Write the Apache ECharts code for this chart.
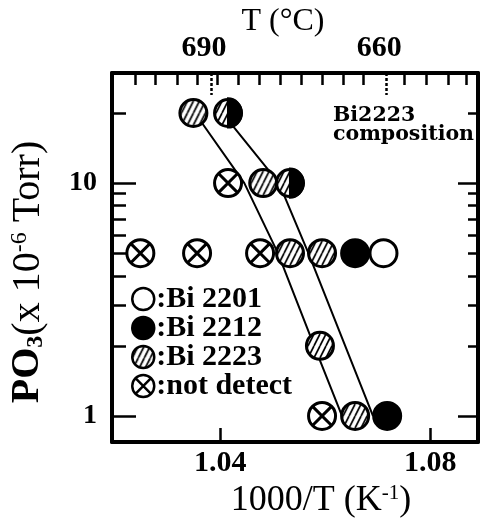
<!DOCTYPE html>
<html><head><meta charset="utf-8">
<script src="https://cdn.jsdelivr.net/npm/echarts@6/dist/echarts.min.js"></script>
<style>html,body{margin:0;padding:0;background:#fff}#c{width:481px;height:524px}</style>
</head><body><div id="c"></div>
<script>
// ---- data (x = 1000/T in K^-1, y = PO3 in 1e-6 Torr) ----
const bi2201X = [1.0711];
const bi2201Y = [5];
const bi2212X = [1.0657, 1.0718];
const bi2212Y = [5, 1];
const bi2223X = [1.0349, 1.0482, 1.0533, 1.0594, 1.0590, 1.0657];
const bi2223Y = [20, 10, 5, 5, 2, 1];
const notDetectX = [1.0248, 1.0356, 1.0476, 1.0415, 1.0594];
const notDetectY = [5, 5, 5, 10, 1];
const mixedX = [1.0415, 1.0533];          // Bi2223 + Bi2212 (half-filled)
const mixedY = [20, 10];
const line1X = [1.0352, 1.0446, 1.0510, 1.0579, 1.0632];
const line1Y = [20, 10, 5, 2, 1];
const line2X = [1.0404, 1.0512, 1.0568, 1.0691];
const line2Y = [20, 10, 5, 1];
// ---- axes / ticks ----
const xMin = 1.0194, xMax = 1.0891;
const yMin = 0.773, yMax = 29.7;
const xMajor = [1.04, 1.08];
const topTickX = [1.0238, 1.0276, 1.0318, 1.0357, 1.0395, 1.0435, 1.0475, 1.0514, 1.0554, 1.0594, 1.0635, 1.0673, 1.0750, 1.0793, 1.0834, 1.0869];
const tempLabels = [690, 660];           // deg C
const yMajor = [1, 10];
const yMinor = [2, 3, 4, 5, 6, 7, 8, 9, 20];
const legendNames = ['Bi 2201', 'Bi 2212', 'Bi 2223', 'not detect'];

const F = 'Liberation Serif';
const pair = (xs, ys) => xs.map((x, i) => [x, ys[i]]);
const tempX = tempLabels.map(t => 1000 / (t + 273.15));
const SZ = 27, BW = 3;

function hatchCanvas() {
  const c = document.createElement('canvas');
  c.width = 6; c.height = 12;
  const g = c.getContext('2d');
  g.fillStyle = '#fff'; g.fillRect(0, 0, 6, 12);
  g.strokeStyle = '#000'; g.lineWidth = 1.7;
  g.beginPath();
  for (const o of [-6, 0, 6]) { g.moveTo(o, 12); g.lineTo(o + 6, 0); }
  g.stroke();
  return c;
}
const hatchImg = hatchCanvas();
// symbols are drawn as 2x2 paths scaled by size/2, so the pattern is pre-scaled back
const hatchSeries = { image: hatchImg, repeat: 'repeat', scaleX: 2 / SZ, scaleY: 2 / SZ };
const hatchLegend = { image: hatchImg, repeat: 'repeat' };
const NDPATH = 'path://M0,10A10,10,0,1,1,20,10A10,10,0,1,1,0,10ZM2.93,2.93L17.07,17.07M17.07,2.93L2.93,17.07';
const HALF = 'path://M0,0A10,10,0,0,1,0,20Z';

const chart = echarts.init(document.getElementById('c'), null, { renderer: 'canvas' });
const tickLbl = { fontFamily: F, fontSize: 30, fontWeight: 'bold', color: '#000' };
const baseX = { type: 'value', min: xMin, max: xMax, splitLine: { show: false }, axisLine: { onZero: false, lineStyle: { color: '#000', width: 4 } } };
const baseY = { type: 'log', min: yMin, max: yMax, splitLine: { show: false }, axisLine: { onZero: false, lineStyle: { color: '#000', width: 4 } } };

chart.setOption({
  animation: false,
  backgroundColor: '#fff',
  grid: { left: 112, right: 3, top: 73, bottom: 82, containLabel: false, outerBoundsMode: 'none' },
  xAxis: [
    Object.assign({}, baseX, {
      id: 'xb', position: 'bottom',
      axisTick: { inside: true, length: 14, customValues: xMajor, lineStyle: { color: '#000', width: 2.5 } },
      axisLabel: { customValues: xMajor, margin: 6, formatter: v => v.toFixed(2), ...tickLbl },
      name: '{a|1000/T (K}{p|-1}{a|)}', nameLocation: 'middle', nameGap: 32,
      nameTextStyle: { padding: [0, 0, 0, 52], rich: {
        a: { fontFamily: F, fontSize: 36, color: '#000' },
        p: { fontFamily: F, fontSize: 21, color: '#000', verticalAlign: 'top' } } }
    }),
    Object.assign({}, baseX, {
      id: 'xt', position: 'top',
      axisLine: { show: false },
      axisTick: { inside: true, length: 22, customValues: tempX, lineStyle: { color: '#000', width: 2.5, type: [3, 2] } },
      axisLabel: { customValues: tempX, margin: 10, padding: [0, 14, 0, 0], formatter: v => String(Math.round(1000 / v - 273.15)), ...tickLbl },
      name: 'T (°C)', nameLocation: 'middle', nameGap: 35, nameMoveOverlap: false,
      nameTextStyle: { fontFamily: F, fontSize: 32, color: '#000', padding: [0, 24, 0, 0] }
    }),
    Object.assign({}, baseX, {
      id: 'xm', position: 'top',
      axisTick: { show: true, inside: true, length: 12, customValues: topTickX, lineStyle: { color: '#000', width: 2.5 } },
      axisLabel: { show: false }
    })
  ],
  yAxis: [
    Object.assign({}, baseY, {
      position: 'left',
      axisTick: { inside: true, length: 24, customValues: yMajor, lineStyle: { color: '#000', width: 2.5 } },
      axisLabel: { customValues: yMajor, margin: 15, formatter: v => String(Math.round(v)), ...tickLbl, fontSize: 28 },
      name: '{b|PO}{s|3}{a|(x 10}{p|-6}{a| Torr)}', nameLocation: 'middle', nameGap: 64, nameRotate: 90,
      nameTextStyle: { padding: [0, 29, 0, 0], rich: {
        a: { fontFamily: F, fontSize: 40, color: '#000' },
        b: { fontFamily: F, fontSize: 40, color: '#000', fontWeight: 'bold' },
        s: { fontFamily: F, fontSize: 24, color: '#000', fontWeight: 'bold', verticalAlign: 'bottom' },
        p: { fontFamily: F, fontSize: 24, color: '#000', verticalAlign: 'top' } } }
    }),
    Object.assign({}, baseY, {
      position: 'left', axisLine: { show: false },
      axisTick: { inside: true, length: 14, customValues: yMinor, lineStyle: { color: '#000', width: 2.5 } },
      axisLabel: { show: false }
    }),
    Object.assign({}, baseY, {
      position: 'right',
      axisTick: { inside: true, length: 20, customValues: yMajor, lineStyle: { color: '#000', width: 2.5 } },
      axisLabel: { show: false }
    }),
    Object.assign({}, baseY, {
      position: 'right', axisLine: { show: false },
      axisTick: { inside: true, length: 10, customValues: yMinor, lineStyle: { color: '#000', width: 2.5 } },
      axisLabel: { show: false }
    })
  ],
  legend: {
    data: legendNames.map(n => n === 'Bi 2223' ? { name: n, itemStyle: { color: hatchLegend } } : { name: n }),
    orient: 'vertical', left: 131, top: 284,
    itemWidth: 22, itemHeight: 22, itemGap: -1, padding: 0,
    formatter: n => ':' + n,
    itemStyle: { borderWidth: 2.5 },
    textStyle: { fontFamily: F, fontSize: 30, fontWeight: 'bold', color: '#000', padding: [0, 0, 0, -3] }
  },
  graphic: [{
    type: 'text', left: 333, top: 105, z: 10,
    style: { text: 'Bi2223\ncomposition', fontFamily: 'DejaVu Serif', fontWeight: 'bold', fontSize: 20.5, lineHeight: 19, fill: '#000' }
  }],
  series: [
    { type: 'line', name: 'b1', data: pair(line1X, line1Y), symbol: 'none', z: 1, lineStyle: { color: '#000', width: 2 } },
    { type: 'line', name: 'b2', data: pair(line2X, line2Y), symbol: 'none', z: 1, lineStyle: { color: '#000', width: 2 } },
    { type: 'scatter', name: 'Bi 2201', data: pair(bi2201X, bi2201Y), symbol: 'circle', symbolSize: SZ, z: 3,
      itemStyle: { color: '#fff', borderColor: '#000', borderWidth: BW, opacity: 1 } },
    { type: 'scatter', name: 'Bi 2212', data: pair(bi2212X, bi2212Y), symbol: 'circle', symbolSize: SZ, z: 3,
      itemStyle: { color: '#000', borderColor: '#000', borderWidth: BW, opacity: 1 } },
    { type: 'scatter', name: 'Bi 2223', data: pair(bi2223X, bi2223Y), symbol: 'circle', symbolSize: SZ, z: 3,
      itemStyle: { color: hatchSeries, borderColor: '#000', borderWidth: BW, opacity: 1 } },
    { type: 'scatter', name: 'not detect', data: pair(notDetectX, notDetectY), symbol: NDPATH, symbolSize: SZ, z: 3,
      itemStyle: { color: '#fff', borderColor: '#000', borderWidth: BW, opacity: 1 } },
    { type: 'scatter', name: 'mixed', data: pair(mixedX, mixedY), symbol: 'circle', symbolSize: SZ, z: 3,
      itemStyle: { color: hatchSeries, borderColor: '#000', borderWidth: BW, opacity: 1 } },
    { type: 'scatter', name: 'mixed2212', data: pair(mixedX, mixedY), symbol: HALF, symbolSize: [SZ / 2, SZ], symbolOffset: [SZ / 4, 0], z: 4,
      itemStyle: { color: '#000', borderColor: '#000', borderWidth: BW, opacity: 1 } }
  ]
});
</script>
</body></html>
